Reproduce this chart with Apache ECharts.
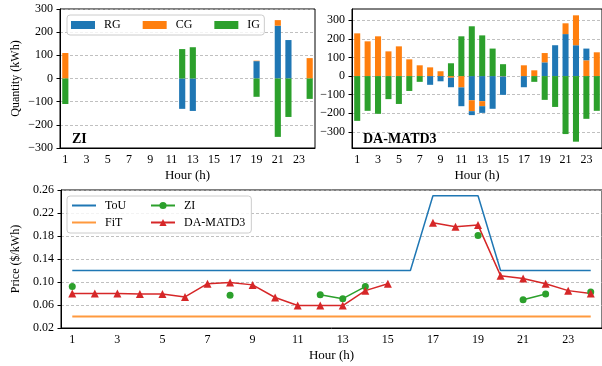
<!DOCTYPE html>
<html>
<head>
<meta charset="utf-8">
<script src="https://cdn.jsdelivr.net/npm/echarts@6/dist/echarts.min.js"></script>
<style>
  html, body { margin: 0; background: #fff; }
  #chart { width: 602px; height: 366px; }
</style>
</head>
<body>
<div id="chart"></div>
<script>
// hours of the day
var hours = ['1','2','3','4','5','6','7','8','9','10','11','12','13','14','15','16','17','18','19','20','21','22','23','24'];

// ZI: traded quantity per hour (kWh)
var ziRG = [0,0,0,0,0,0,0,0,0,0,0,-131,-140,0,0,0,0,0,75,0,228,166,0,0];
var ziCG = [110,0,0,0,0,0,0,0,0,0,0,0,0,0,0,0,0,0,2,0,24,0,0,88];
var ziIG = [-110,0,0,0,0,0,0,0,0,0,0,127,135,0,0,0,0,0,-79,0,-252,-166,0,-88];

// DA-MATD3: traded quantity per hour (kWh), RG split in the part next to zero and the outer part
var daRGnear = [0,0,0,0,0,0,0,-47,-28,0,0,-130,-135,-176,0,0,-60,0,74,166,226,166,0,0];
var daCG = [230,187,214,133,160,90,58,47,26,-9,-61,-59,-27,0,-2,0,58,31,50,0,58,161,85,128];
var daRGfar = [0,0,0,0,0,0,0,0,0,-51,-101,-21,-36,0,-99,0,0,0,0,0,0,0,63,0];
var daIG = [-241,-187,-203,-124,-150,-80,-31,0,0,69,214,268,219,148,64,0,0,-31,-128,-166,-312,-353,-230,-187];

// prices ($/kWh)
var touPrice = [0.12,0.12,0.12,0.12,0.12,0.12,0.12,0.12,0.12,0.12,0.12,0.12,0.12,0.12,0.12,0.12,0.25,0.25,0.25,0.12,0.12,0.12,0.12,0.12];
var fitPrice = [0.04,0.04,0.04,0.04,0.04,0.04,0.04,0.04,0.04,0.04,0.04,0.04,0.04,0.04,0.04,0.04,0.04,0.04,0.04,0.04,0.04,0.04,0.04,0.04];
var ziPrice = [0.092,null,null,null,null,null,null,0.077,null,null,null,0.078,0.071,0.092,null,null,null,null,0.181,null,0.069,0.079,null,0.0825];
var daPrice = [0.080,0.080,0.080,0.079,0.079,0.074,0.097,0.099,0.095,0.073,0.059,0.059,0.059,0.085,0.097,null,0.203,0.196,0.199,0.111,0.106,0.097,0.085,0.080];

// tick labels
var qtyTicks = [-300,-200,-100,0,100,200,300];

var FONT = 'Liberation Serif';
var BLUE = '#1f77b4', ORANGE = '#ff7f0e', GREEN = '#2ca02c', RED = '#d62728';

function minus(v) { return String(v).replace('-', '\u2212'); }

function hourAxis(idx) {
  return {
    type: 'category',
    gridIndex: idx,
    data: hours,
    name: 'Hour (h)',
    nameLocation: 'middle',
    nameGap: 21,
    nameTextStyle: { fontFamily: FONT, fontSize: 13, color: '#000' },
    axisLine: { onZero: false, lineStyle: { color: '#000', width: 1 } },
    axisTick: { alignWithLabel: true, interval: 1, length: 3.5, lineStyle: { color: '#000' } },
    axisLabel: { interval: 1, margin: 6, fontFamily: FONT, fontSize: 12, color: '#000' },
    splitLine: { show: false }
  };
}

var gridLine = { show: true, lineStyle: { color: '#b0b0b0', type: [3, 2], width: 0.8 } };

function valueAxis(idx, extra) {
  var ax = {
    type: 'value',
    gridIndex: idx,
    nameLocation: 'middle',
    nameGap: 38,
    nameTextStyle: { fontFamily: FONT, fontSize: 12, color: '#000' },
    axisLine: { show: true, lineStyle: { color: '#000', width: 1 } },
    axisTick: { show: true, length: 3.5, lineStyle: { color: '#000' } },
    axisLabel: { margin: 7, fontFamily: FONT, fontSize: 12, color: '#000', formatter: minus },
    splitLine: gridLine
  };
  for (var k in extra) {
    if (typeof extra[k] === 'object' && ax[k] && !Array.isArray(extra[k])) {
      ax[k] = Object.assign({}, ax[k], extra[k]);
    } else {
      ax[k] = extra[k];
    }
  }
  return ax;
}

function bar(name, data, color, xi, stack) {
  return {
    name: name, type: 'bar', data: data,
    xAxisIndex: xi, yAxisIndex: xi, stack: stack,
    barWidth: '58%',
    itemStyle: { color: color }
  };
}

var legendText = { fontFamily: FONT, fontSize: 12, color: '#000', padding: [0, 0, 0, 4] };

var dom = document.getElementById('chart');
var myChart = echarts.init(dom, null, { renderer: 'canvas' });

var option = {
  animation: false,
  backgroundColor: '#fff',
  textStyle: { fontFamily: FONT },
  title: [
    { text: 'ZI', left: 72, top: 132, padding: 0,
      textStyle: { fontFamily: FONT, fontWeight: 'bold', fontSize: 14, color: '#000' } },
    { text: 'DA-MATD3', left: 363, top: 132, padding: 0,
      textStyle: { fontFamily: FONT, fontWeight: 'bold', fontSize: 14, color: '#000' } }
  ],
  grid: [
    { left: 60, top: 9, width: 255, height: 139, show: true, borderColor: '#000', borderWidth: 1 },
    { left: 352, top: 9, width: 255, height: 139, show: true, borderColor: '#000', borderWidth: 1 },
    { left: 61, top: 190, width: 548, height: 138, show: true, borderColor: '#000', borderWidth: 1 }
  ],
  legend: [
    {
      data: ['RG', 'CG', 'IG'],
      left: 67, top: 15,
      icon: 'rect',
      itemWidth: 24, itemHeight: 8, itemGap: 22,
      padding: [4, 4, 4, 4],
      backgroundColor: 'rgba(255,255,255,0.8)',
      borderColor: '#ccc', borderWidth: 1, borderRadius: 3,
      textStyle: Object.assign({ width: 13, lineHeight: 12 }, legendText)
    },
    {
      data: [
        { name: 'ToU', itemStyle: { opacity: 0 } },
        { name: 'ZI' },
        { name: 'FiT', itemStyle: { opacity: 0 } },
        { name: 'DA-MATD3', textStyle: { width: 58 } }
      ],
      left: 67, top: 196, width: 175,
      itemWidth: 24, itemHeight: 9, itemGap: 4,
      padding: [3, 6, 4, 4],
      backgroundColor: 'rgba(255,255,255,0.8)',
      borderColor: '#ccc', borderWidth: 1, borderRadius: 3,
      textStyle: Object.assign({ width: 41, lineHeight: 13 }, legendText)
    }
  ],
  xAxis: [hourAxis(0), hourAxis(1), hourAxis(2)],
  yAxis: [
    valueAxis(0, { min: -300, max: 300, interval: 100, name: 'Quantity (kWh)' }),
    valueAxis(1, { min: -387, max: 361,
      axisLabel: { customValues: qtyTicks },
      axisTick: { customValues: qtyTicks } }),
    valueAxis(2, { min: 0.02, max: 0.26, interval: 0.04, name: 'Price ($/kWh)', nameGap: 37,
      axisLabel: { formatter: function (v) { return v.toFixed(2); } } })
  ],
  series: [
    bar('RG', ziRG, BLUE, 0, 'zi'),
    bar('CG', ziCG, ORANGE, 0, 'zi'),
    bar('IG', ziIG, GREEN, 0, 'zi'),

    bar('RG', daRGnear, BLUE, 1, 'da'),
    bar('CG', daCG, ORANGE, 1, 'da'),
    bar('RG', daRGfar, BLUE, 1, 'da'),
    bar('IG', daIG, GREEN, 1, 'da'),

    { name: 'ToU', type: 'line', data: touPrice, xAxisIndex: 2, yAxisIndex: 2,
      symbol: 'none', lineStyle: { color: BLUE, width: 1.5 }, itemStyle: { color: BLUE } },
    { name: 'FiT', type: 'line', data: fitPrice, xAxisIndex: 2, yAxisIndex: 2,
      symbol: 'none', lineStyle: { color: ORANGE, width: 2, opacity: 0.8 }, itemStyle: { color: ORANGE } },
    { name: 'ZI', type: 'line', data: ziPrice, xAxisIndex: 2, yAxisIndex: 2,
      symbol: 'circle', symbolSize: 7, connectNulls: false,
      lineStyle: { color: GREEN, width: 1.5 }, itemStyle: { color: GREEN } },
    { name: 'DA-MATD3', type: 'line', data: daPrice, xAxisIndex: 2, yAxisIndex: 2,
      symbol: 'triangle', symbolSize: 8, connectNulls: false,
      lineStyle: { color: RED, width: 1.5 }, itemStyle: { color: RED } }
  ]
};

if (option && typeof option === 'object') {
  myChart.setOption(option, true);
}
</script>
</body>
</html>
